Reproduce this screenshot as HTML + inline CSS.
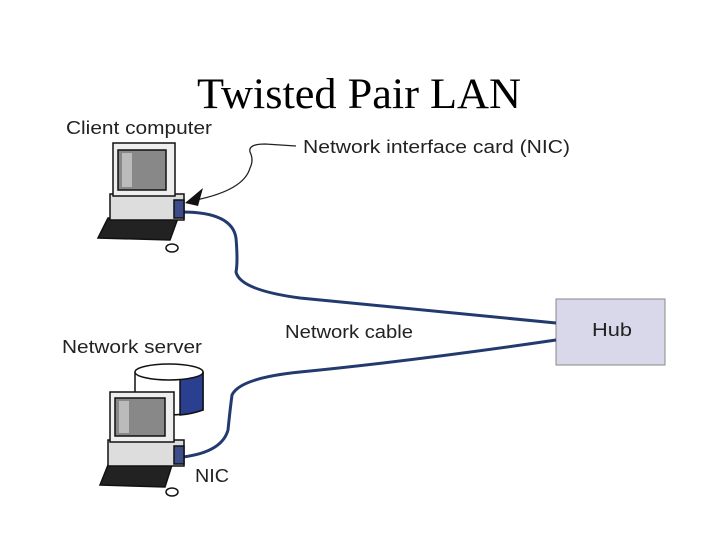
<!DOCTYPE html>
<html><head><style>
html,body{margin:0;padding:0;background:#fff;width:720px;height:540px;overflow:hidden}
svg{display:block}
text{font-family:"Liberation Sans",sans-serif;fill:#222}
</style></head><body>
<svg width="720" height="540" viewBox="0 0 720 540">
<text x="197" y="108" textLength="324" lengthAdjust="spacingAndGlyphs" style="font-family:'Liberation Serif',serif;font-size:43px;fill:#000">Twisted Pair LAN</text>
<text x="66" y="134" font-size="18" textLength="146" lengthAdjust="spacingAndGlyphs">Client computer</text>
<text x="303" y="153" font-size="18" textLength="267" lengthAdjust="spacingAndGlyphs">Network interface card (NIC)</text>
<text x="62" y="353" font-size="18" textLength="140" lengthAdjust="spacingAndGlyphs">Network server</text>
<text x="285" y="338" font-size="18" textLength="128" lengthAdjust="spacingAndGlyphs">Network cable</text>
<text x="195" y="482" font-size="18" textLength="34" lengthAdjust="spacingAndGlyphs">NIC</text>
<rect x="556" y="299" width="109" height="66" fill="#d8d8ea" stroke="#888" stroke-width="1"/>
<text x="592" y="336" font-size="18" textLength="40" lengthAdjust="spacingAndGlyphs">Hub</text>
<path d="M296,146 L265,144 Q248,144 250,152 Q254,160 250,168 Q244,190 196,200" fill="none" stroke="#222" stroke-width="1.3"/>
<polygon points="185,203 203,188 198,206" fill="#111"/>
<path d="M182,212 Q232,212 236,238 Q238,262 236,272 Q240,290 300,298 L556,323" fill="none" stroke="#223a6e" stroke-width="3"/>
<path d="M183,457 Q222,452 228,430 Q230,410 232,395 Q240,378 300,372 Q420,360 556,340" fill="none" stroke="#223a6e" stroke-width="3"/>
<g stroke="#111" stroke-width="1.5">
<polygon points="98,238 108,218 178,218 170,240" fill="#222"/>
<rect x="110" y="194" width="74" height="26" fill="#ddd"/>
<rect x="174" y="200" width="10" height="18" fill="#3d4d8a"/>
<rect x="113" y="143" width="62" height="53" fill="#eee"/>
<rect x="118" y="150" width="48" height="40" fill="#888"/>
<rect x="122" y="153" width="10" height="34" fill="#bbb" stroke="none"/>
<ellipse cx="172" cy="248" rx="6" ry="4" fill="#fff"/>
</g>
<g stroke="#111" stroke-width="1.5">
<path d="M135,372 L135,410 Q168,420 203,410 L203,372" fill="#fff"/>
<path d="M180,372 L203,372 L203,410 Q192,414 180,415 Z" fill="#2a3f8f"/>
<ellipse cx="169" cy="372" rx="34" ry="8" fill="#fff"/>
<polygon points="100,485 108,465 172,465 165,487" fill="#222"/>
<rect x="108" y="440" width="76" height="26" fill="#ddd"/>
<rect x="174" y="446" width="10" height="18" fill="#3d4d8a"/>
<rect x="110" y="392" width="64" height="50" fill="#eee"/>
<rect x="115" y="398" width="50" height="38" fill="#888"/>
<rect x="119" y="401" width="10" height="32" fill="#bbb" stroke="none"/>
<ellipse cx="172" cy="492" rx="6" ry="4" fill="#fff"/>
</g>
</svg>
</body></html>
